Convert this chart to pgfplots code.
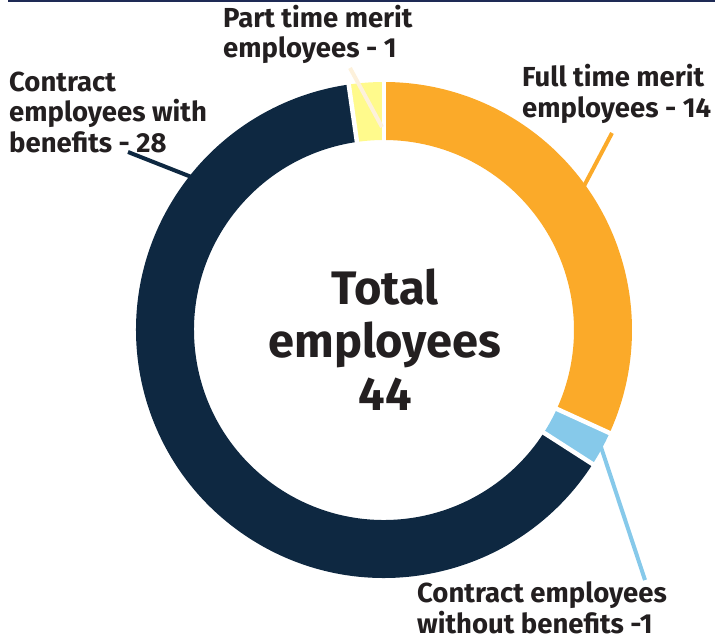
\documentclass[border=0pt]{standalone}
\usepackage{fontspec}
\setmainfont{Fira Sans}
\usepackage{pgfplots}
\usepackage{pgfplotstable}
\pgfplotsset{compat=1.18}

\definecolor{cNavy}{HTML}{0E2841}
\definecolor{cOrange}{HTML}{FBAA29}
\definecolor{cBlue}{HTML}{86C9EA}
\definecolor{cYellow}{HTML}{FFFA8C}
\definecolor{cCream}{HTML}{FDF1DB}
\definecolor{cText}{HTML}{231F20}
\definecolor{cBar}{HTML}{1E2A55}

\tikzset{
  lab/.style={anchor=base west, inner sep=0pt, text=cText, font=\bfseries\fontsize{27.5}{31}\selectfont},
  big/.style={anchor=base, inner sep=0pt, text=cText, font=\bfseries\fontsize{47}{53}\selectfont}}

% employees by type, clockwise from the top
\pgfplotstableread{
label value
FullTimeMerit 14
ContractWithout 1
ContractWith 28
PartTimeMerit 1
}\donut

% ring segment: colour, start angle, end angle
\newcommand\seg[3]{%
  \fill[#1, shift={(axis cs:384,311)}] (#2:248pt) arc[start angle=#2, end angle=#3, radius=248pt]
    -- (#3:190pt) arc[start angle=#3, end angle=#2, radius=190pt] -- cycle;}
\newcommand\gap[1]{%
  \draw[white, line width=4.5pt, shift={(axis cs:384,311)}] (#1:180pt) -- (#1:258pt);}

\begin{document}
\begin{tikzpicture}
\pgfplotstablegetelem{0}{value}\of\donut \pgfmathsetmacro\vA{\pgfplotsretval}
\pgfplotstablegetelem{1}{value}\of\donut \pgfmathsetmacro\vB{\pgfplotsretval}
\pgfplotstablegetelem{2}{value}\of\donut \pgfmathsetmacro\vC{\pgfplotsretval}
\pgfplotstablegetelem{3}{value}\of\donut \pgfmathsetmacro\vD{\pgfplotsretval}
\pgfmathsetmacro\tot{\vA+\vB+\vC+\vD}
\pgfmathsetmacro\aA{90}
\pgfmathsetmacro\aB{\aA-360*\vA/\tot}
\pgfmathsetmacro\aC{\aB-360*\vB/\tot}
\pgfmathsetmacro\aD{\aC-360*\vC/\tot}
\pgfmathsetmacro\aE{\aD-360*\vD/\tot}
\begin{axis}[at={(0,0)}, anchor=south west, x=1pt, y=1pt,
  xmin=0, xmax=715, ymin=0, ymax=641, hide axis, clip=false]
\fill[cBar] (axis cs:8,638.5) rectangle (axis cs:715,641);
\seg{cOrange}{\aA}{\aB}
\seg{cBlue}{\aB}{\aC}
\seg{cNavy}{\aC}{\aD}
\seg{cYellow}{\aD}{\aE}
\gap{\aA}\gap{\aB}\gap{\aC}\gap{\aD}
% leader lines
\draw[cNavy, line width=4pt] (axis cs:128,489) -- (axis cs:194,463);
\draw[cCream, line width=4pt] (axis cs:350,573) -- (axis cs:382,514);
\draw[cOrange, line width=4pt] (axis cs:612,508) -- (axis cs:584,455);
\draw[cBlue, line width=4pt] (axis cs:597,206) -- (axis cs:645,61);
% labels
\node[lab] at (axis cs:9,549) {Contract};
\node[lab] at (axis cs:9,519) {employees with};
\node[lab] at (axis cs:9,488) {benefits - 28};
\node[lab] at (axis cs:223,613) {Part time merit};
\node[lab] at (axis cs:223,583) {employees - 1};
\node[lab] at (axis cs:522,554) {Full time merit};
\node[lab] at (axis cs:522,523) {employees - 14};
\node[lab] at (axis cs:417,39) {Contract employees};
\node[lab] at (axis cs:417,8) {without benefits -1};
\node[big] at (axis cs:385,337) {Total};
\node[big] at (axis cs:385,284) {employees};
\node[big] at (axis cs:385,231) {44};
\end{axis}
\pgfresetboundingbox
\path (0,0) rectangle (715pt,641pt);
\end{tikzpicture}
\end{document}
